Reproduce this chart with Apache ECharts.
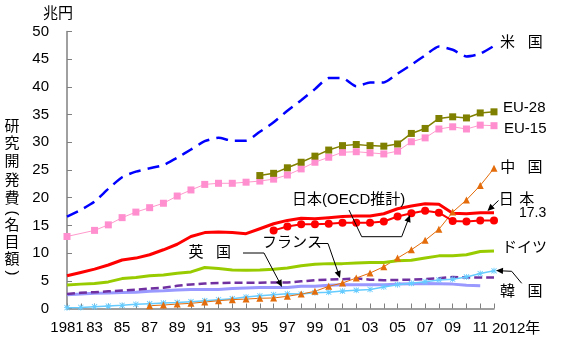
<!DOCTYPE html>
<html><head><meta charset="utf-8">
<script src="https://cdn.jsdelivr.net/npm/echarts@6/dist/echarts.min.js"></script>
<style>html,body{margin:0;padding:0;background:#fff}#c{width:566px;height:350px}</style>
</head><body><div id="c"></div>
<script>
const years = ['1981','1982','1983','1984','1985','1986','1987','1988','1989','1990','1991','1992','1993','1994','1995','1996','1997','1998','1999','2000','2001','2002','2003','2004','2005','2006','2007','2008','2009','2010','2011','2012'];
const xTickLabels = ['1981','','83','','85','','87','','89','','91','','93','','95','','97','','99','','01','','03','','05','','07','','09','','11','2012年'];
const yTickValues = [0,5,10,15,20,25,30,35,40,45,50];

const usa = [16.6,17.8,19.3,21.6,23.7,24.7,25.3,25.9,27.2,28.7,30.2,30.8,30.3,30.3,31.9,33.6,35.7,37.6,39.6,41.6,41.6,40.1,40.8,40.8,42.4,44.0,45.7,47.3,46.7,45.5,46.0,47.4];
const eu28 = [null,null,null,null,null,null,null,null,null,null,null,null,null,null,24.0,24.4,25.4,26.4,27.5,28.6,29.4,29.6,29.4,29.3,29.7,31.6,32.5,34.3,34.6,34.4,35.3,35.5];
const eu15 = [13.0,null,14.1,15.1,16.4,17.4,18.2,19.0,20.3,21.4,22.4,22.6,22.6,22.8,23.0,23.35,24.1,25.2,26.4,27.3,28.2,28.3,28.1,27.9,28.4,30.1,30.8,32.4,32.8,32.4,33.1,33.0];
const japan = [5.9,6.5,7.1,7.85,8.75,9.1,9.7,10.6,11.6,13.0,13.7,13.8,13.7,13.5,14.4,15.3,15.9,16.3,16.2,16.4,16.6,16.7,16.7,17.1,18.0,18.5,18.9,18.8,17.2,17.1,17.3,17.3];
const japanOECD = [null,null,null,null,null,null,null,null,null,null,null,null,null,null,null,14.1,14.8,15.2,15.2,15.3,15.5,15.5,15.5,15.7,16.6,17.2,17.65,17.3,15.8,15.7,15.9,15.9];
const germany = [4.25,4.4,4.5,4.8,5.4,5.6,5.9,6.05,6.35,6.6,7.4,7.2,6.95,6.9,6.95,7.1,7.3,7.7,8.0,8.1,8.1,8.2,8.3,8.3,8.6,8.7,9.1,9.5,9.5,9.7,10.3,10.4];
const france = [2.6,2.85,2.95,3.1,3.25,3.4,3.6,3.75,4.1,4.35,4.5,4.6,4.65,4.65,4.65,4.7,4.7,4.9,5.1,5.2,5.3,5.45,5.2,5.1,5.15,5.2,5.3,5.45,5.7,5.6,5.6,5.6];
const uk = [2.5,2.6,2.75,2.8,2.9,2.95,3.1,3.2,3.35,3.45,3.45,3.45,3.6,3.7,3.8,3.8,3.8,4.0,4.0,4.2,4.3,4.3,4.3,4.3,4.4,4.45,4.5,4.45,4.4,4.2,4.1,null];
const korea = [0.15,0.2,0.33,0.45,0.57,0.75,0.87,1.0,1.1,1.23,1.4,1.6,1.77,2.07,2.3,2.5,2.65,2.6,2.85,2.95,3.15,3.3,3.45,3.9,4.3,4.55,4.85,5.15,5.3,5.7,6.3,6.8];
const china = [null,null,null,null,null,null,0.5,0.63,0.8,0.93,1.17,1.4,1.6,1.7,1.85,1.9,2.2,2.6,3.1,4.0,4.6,5.5,6.4,7.55,9.1,10.6,12.3,14.3,17.4,19.6,22.2,25.3];

const FONT = '"Liberation Sans","Noto Sans CJK JP",sans-serif';
const chart = echarts.init(document.getElementById('c'), null, {renderer: 'canvas'});

function txt(s, x, y, size, align, rot) {
  return {type: 'text', x: x, y: y, z: 100, rotation: rot || 0,
    style: {text: s, fontSize: size || 15, fontFamily: FONT, fill: '#000', align: align || 'center', verticalAlign: 'middle'}};
}
function arrow(pts) {
  const n = pts.length;
  const p = pts[n-1], q = pts[n-2];
  let dx = p[0]-q[0], dy = p[1]-q[1];
  const len = Math.sqrt(dx*dx+dy*dy); dx/=len; dy/=len;
  const L = 7, W = 3.2;
  const bx = p[0]-dx*L, by = p[1]-dy*L;
  return [
    {type: 'polyline', z: 100, shape: {points: pts.slice(0, n-1).concat([[bx+dx*2, by+dy*2]])}, style: {stroke: '#000', lineWidth: 1, fill: null}},
    {type: 'polygon', z: 100, shape: {points: [p, [bx - dy*W, by + dx*W], [bx + dy*W, by - dx*W]]}, style: {fill: '#000'}}
  ];
}

const asterisk = 'path://M4.3 0h1.4v10h-1.4z M0 4.3h10v1.4h-10z M1.2 0.2l8.6 8.6-1 1-8.6-8.6z M8.8 0.2l1 1-8.6 8.6-1-1z';

function line(name, data, opt) {
  return Object.assign({
    name: name, type: 'line', data: data, symbol: 'none', showAllSymbol: true,
    connectNulls: true, animation: false,
    lineStyle: {width: 2}, emphasis: {disabled: true}
  }, opt);
}

const graphics = [];
graphics.push(txt('兆円', 58, 14));
[['研',127],['究',144],['開',161.5],['発',181],['費',199],['名',226],['目',243],['額',260]].forEach(c => graphics.push(txt(c[0], 12, c[1])));
graphics.push(txt('(', 12, 213, 15, 'center', -Math.PI/2));
graphics.push(txt(')', 12, 273, 15, 'center', -Math.PI/2));
graphics.push(txt(xTickLabels[31], 492, 328.5, 15, 'left'));
graphics.push(txt('米', 507.5, 43), txt('国', 535.3, 43));
graphics.push(txt('EU-28', 503, 108, 15, 'left'));
graphics.push(txt('EU-15', 504, 129, 15, 'left'));
graphics.push(txt('中', 507.7, 168), txt('国', 535, 168));
graphics.push(txt('日', 506.3, 200), txt('本', 526.7, 200));
graphics.push(txt('17.3', 519, 213, 14, 'left'));
graphics.push(txt('ドイツ', 502, 248, 15, 'left'));
graphics.push(txt('韓', 507.5, 292), txt('国', 535, 292));
graphics.push(txt('日本(OECD推計)', 292, 200, 15, 'left'));
graphics.push(txt('フランス', 262, 243, 15, 'left'));
graphics.push(txt('英', 196, 253), txt('国', 223.5, 253));
arrow([[498.5, 200.5], [487.5, 211]]).forEach(g => graphics.push(g));
arrow([[521.7, 283.3], [511.7, 271.3], [496, 270.6]]).forEach(g => graphics.push(g));
arrow([[349, 210], [361.7, 236.7], [401.7, 236.7], [410, 215]]).forEach(g => graphics.push(g));
arrow([[313, 243.5], [328, 243.5], [340, 278]]).forEach(g => graphics.push(g));
arrow([[243, 253], [264, 253], [282, 287]]).forEach(g => graphics.push(g));

chart.setOption({
  animation: false,
  backgroundColor: '#ffffff',
  textStyle: {fontFamily: FONT},
  grid: {left: 67, right: 72, top: 31.5, bottom: 41.5},
  xAxis: {
    type: 'category', data: years, boundaryGap: false,
    axisLine: {lineStyle: {color: '#808080', width: 1.5}},
    axisTick: {inside: true, length: 5, interval: 0, lineStyle: {color: '#808080'}},
    axisLabel: {
      interval: 0, margin: 12, color: '#000', fontSize: 15, fontFamily: FONT,
      formatter: function (v, i) { return i === 31 ? '' : xTickLabels[i]; }
    },
    splitLine: {show: false}
  },
  yAxis: {
    type: 'value', min: yTickValues[0], max: yTickValues[yTickValues.length-1], interval: 5,
    axisLine: {show: true, lineStyle: {color: '#808080', width: 1.5}},
    axisTick: {show: true, inside: true, length: 5, lineStyle: {color: '#808080'}},
    axisLabel: {margin: 18, color: '#000', fontSize: 15, fontFamily: FONT},
    splitLine: {show: false}
  },
  graphic: graphics,
  series: [
    line('英国', uk, {lineStyle: {width: 3, color: '#9999FF'}, itemStyle: {color: '#9999FF'}}),
    line('フランス', france, {lineStyle: {width: 2.5, color: '#7030A0', type: [8, 4]}, itemStyle: {color: '#7030A0'}}),
    line('韓国', korea, {symbol: asterisk, symbolSize: 6, lineStyle: {width: 1.5, color: '#66CCFF'}, itemStyle: {color: '#66CCFF'}}),
    line('中国', china, {symbol: 'triangle', symbolSize: 7, lineStyle: {width: 1, color: '#E46C0A'}, itemStyle: {color: '#E46C0A'}}),
    line('ドイツ', germany, {lineStyle: {width: 3, color: '#99CC00'}, itemStyle: {color: '#99CC00'}}),
    line('EU-15', eu15, {symbol: 'rect', symbolSize: 7, lineStyle: {width: 1, color: '#FF99CC'}, itemStyle: {color: '#FF8FCF'}}),
    line('EU-28', eu28, {symbol: 'rect', symbolSize: 7, lineStyle: {width: 1.5, color: '#808000'}, itemStyle: {color: '#808000'}}),
    line('米国', usa, {smooth: 0.2, lineStyle: {width: 2.5, color: '#0000FF', type: [12, 7]}, itemStyle: {color: '#0000FF'}}),
    line('日本', japan, {lineStyle: {width: 3, color: '#FF0000'}, itemStyle: {color: '#FF0000'}}),
    line('日本(OECD推計)', japanOECD, {symbol: 'circle', symbolSize: 8, lineStyle: {width: 2, color: '#FF0000'}, itemStyle: {color: '#FF0000'}})
  ]
});
</script>
</body></html>
